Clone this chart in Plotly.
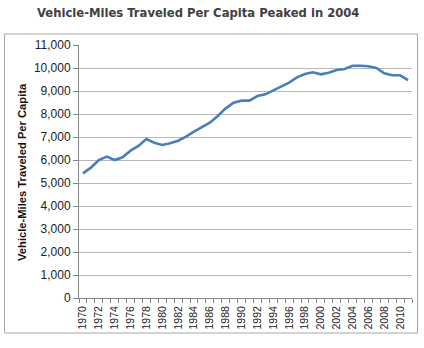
import plotly.graph_objects as go

years = list(range(1970, 2012))
vmt_per_capita = [5420, 5666, 6000, 6145, 6000, 6116, 6406, 6609, 6913, 6754,
                  6652, 6725, 6840, 7014, 7232, 7420, 7623, 7913, 8246, 8493,
                  8580, 8580, 8780, 8855, 9015, 9190, 9365, 9595, 9740, 9812,
                  9725, 9797, 9913, 9957, 10100, 10100, 10073, 10000, 9770, 9682,
                  9682, 9478]
y_ticks = list(range(0, 11001, 1000))
y_tick_text = [f"{v:,}" for v in y_ticks]
x_ticks = list(range(1970, 2011, 2))
title_text = "Vehicle-Miles Traveled Per Capita Peaked in 2004"
y_title = "Vehicle-Miles Traveled Per Capita"

L, R, T, B = 79, 412, 45, 298
W, H = 424, 348
def px(x): return (x - L) / (R - L)
def py(y): return (B - y) / (B - T)

fig = go.Figure()
fig.add_trace(go.Scatter(x=years, y=vmt_per_capita, mode="lines",
                         line=dict(color="#4a7ebb", width=2.6), hoverinfo="x+y"))

fig.update_layout(
    width=W, height=H,
    margin=dict(l=L, r=W - R, t=T, b=H - B),
    paper_bgcolor="white", plot_bgcolor="white",
    showlegend=False,
    xaxis=dict(range=[1969.5, 2011.5], tickvals=x_ticks, ticktext=[str(v) for v in x_ticks],
               tickangle=-90, ticks="", showgrid=False, zeroline=False,
               showline=True, linecolor="#868686", linewidth=1,
               ticklabelstandoff=3,
               tickfont=dict(family="Liberation Sans", size=10.5, color="#222"),
               minor=dict(tick0=1969.5, dtick=1, ticks="outside", ticklen=4,
                          tickcolor="#868686", showgrid=False)),
    yaxis=dict(range=[0, 11000], tickvals=y_ticks, ticktext=y_tick_text,
               ticks="outside", ticklen=5, tickcolor="#868686",
               showgrid=True, gridcolor="#b8b8b8", gridwidth=1, zeroline=False,
               showline=True, linecolor="#868686", linewidth=1,
               tickfont=dict(family="Liberation Sans", size=12, color="#222")),
    shapes=[dict(type="rect", xref="paper", yref="paper",
                 x0=px(4.5), x1=px(417.5), y0=py(333), y1=py(34),
                 line=dict(color="#a6a6a6", width=1), fillcolor="rgba(0,0,0,0)",
                 layer="below")],
    annotations=[
        dict(text=title_text, xref="paper", yref="paper", x=px(198), y=py(13),
             xanchor="center", yanchor="middle", showarrow=False,
             font=dict(family="DejaVu Sans", size=11.6, color="#404040", weight="bold")),
        dict(text=y_title, xref="paper", yref="paper", x=px(22), y=py(172),
             xanchor="center", yanchor="middle", showarrow=False, textangle=-90,
             font=dict(family="Liberation Sans", size=11.2, color="#111", weight="bold")),
    ],
)

fig.write_html("out.html")
